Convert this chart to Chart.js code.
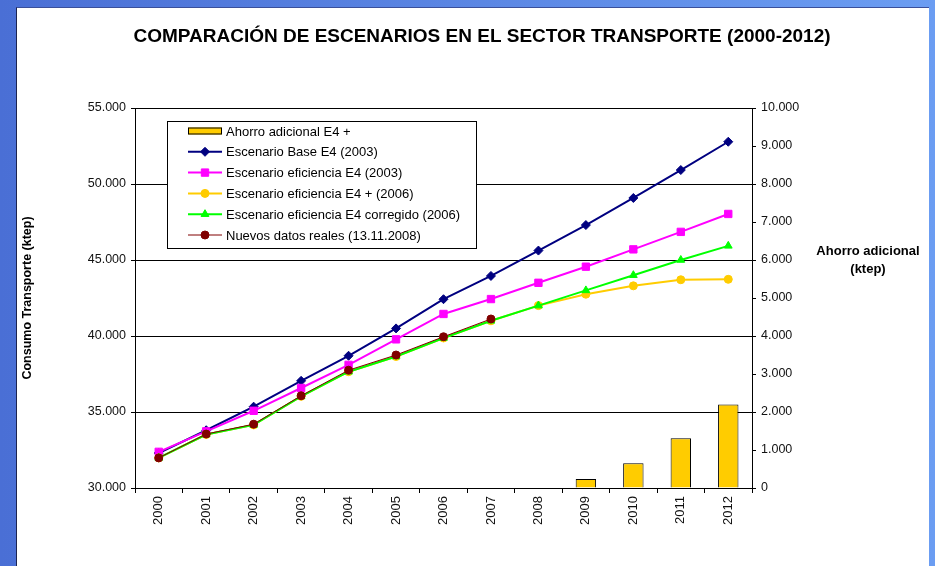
<!DOCTYPE html>
<html>
<head>
<meta charset="utf-8">
<script src="https://cdn.jsdelivr.net/npm/chart.js@4"></script>
<style>
  body { margin: 0; width: 935px; height: 566px; overflow: hidden;
         background: linear-gradient(to right, #4a6fd5, #6b9df2); }
  #panel { position: absolute; left: 16px; top: 7px; width: 913px; height: 559px;
           background: #fff; border-left: 1px solid #1c2450; border-top: 1px solid #3a4f9a; box-sizing: border-box; }
  #chart { position: absolute; left: 0; top: 0; }
</style>
</head>
<body>
<div id="panel"></div>
<canvas id="chart" width="935" height="566"></canvas>
<script>
// data (ktep)
let years = ['2000', '2001', '2002', '2003', '2004', '2005', '2006', '2007', '2008', '2009', '2010', '2011', '2012']
let ahorro = [null, null, null, null, null, null, null, null, null, 240, 650, 1310, 2200]
let baseE4 = [32300, 33800, 35350, 37050, 38700, 40500, 42420, 43950, 45620, 47300, 49080, 50920, 52780]
let eficienciaE4 = [32380, 33730, 35080, 36580, 38100, 39780, 41450, 42430, 43500, 44560, 45700, 46850, 48030]
let eficienciaPlus = [31980, 33520, 34150, 36030, 37650, 38650, 39870, 41000, 42000, 42750, 43300, 43700, 43730]
let corregido = [31980, 33520, 34150, 36030, 37650, 38650, 39870, 41000, 42000, 43000, 44000, 45000, 45930]
let reales = [31980, 33550, 34200, 36070, 37750, 38750, 39950, 41120, null, null, null, null, null]

const FONT = 'Liberation Sans, Arial, sans-serif'
Chart.defaults.font.family = FONT
Chart.defaults.color = '#000'

function miles(v) {
  return String(v).replace(/\B(?=(\d{3})+(?!\d))/g, '.')
}

function lineSet(label, data, color, style, radius, width, order) {
  return {
    type: 'line', label: label, data: data, yAxisID: 'y', order: order,
    borderColor: color, backgroundColor: color, borderWidth: width,
    pointStyle: style, pointRadius: radius, pointBorderWidth: 1,
    pointBackgroundColor: color, pointBorderColor: color, tension: 0
  }
}

// legend drawn inside the plot, like the original
const boxLegend = {
  id: 'boxLegend',
  afterDraw(chart) {
    const ctx = chart.ctx, a = chart.chartArea
    const x = a.left + 32, y = a.top + 13, w = 309, h = 127, row = 20.8
    ctx.save()
    ctx.fillStyle = '#fff'
    ctx.fillRect(x, y, w, h)
    ctx.strokeStyle = '#000'
    ctx.lineWidth = 1
    ctx.strokeRect(x + 0.5, y + 0.5, w, h)
    ctx.font = '13px ' + FONT
    ctx.textBaseline = 'middle'
    chart.data.datasets.forEach(function(ds, i) {
      const cy = y + 10 + i * row, sx = x + 21, ex = x + 55
      if (ds.type === 'bar') {
        ctx.fillStyle = ds.backgroundColor
        ctx.fillRect(sx, cy - 3.5, ex - sx, 7)
        ctx.strokeStyle = '#000'
        ctx.strokeRect(sx + 0.5, cy - 3, ex - sx - 1, 6)
      } else {
        ctx.strokeStyle = ds.borderColor
        ctx.lineWidth = ds.borderWidth
        ctx.beginPath()
        ctx.moveTo(sx, cy)
        ctx.lineTo(ex, cy)
        ctx.stroke()
        ctx.fillStyle = ds.pointBackgroundColor
        ctx.lineWidth = 1
        Chart.helpers.drawPoint(ctx, { pointStyle: ds.pointStyle, radius: ds.pointRadius, borderWidth: 1, rotation: 0 }, (sx + ex) / 2, cy)
      }
      ctx.fillStyle = '#000'
      ctx.fillText(ds.label, x + 59, cy + 1)
    })
    // right axis title, horizontal as in the original
    ctx.font = 'bold 13px ' + FONT
    ctx.textAlign = 'center'
    ctx.fillText('Ahorro adicional', 868, 251)
    ctx.fillText('(ktep)', 868, 269)
    ctx.restore()
  }
}

new Chart(document.getElementById('chart'), {
  data: {
    labels: years,
    datasets: [
      {
        type: 'bar', label: 'Ahorro adicional E4 +', data: ahorro, yAxisID: 'y1', order: 6,
        backgroundColor: '#FFCC00', borderColor: '#000', borderWidth: 1,
        barPercentage: 0.43, categoryPercentage: 1
      },
      lineSet('Escenario Base E4 (2003)', baseE4, '#000080', 'rectRot', 4.5, 2, 5),
      lineSet('Escenario eficiencia E4 (2003)', eficienciaE4, '#FF00FF', 'rect', 5.2, 2, 4),
      lineSet('Escenario eficiencia E4 + (2006)', eficienciaPlus, '#FFCC00', 'circle', 4, 2, 3),
      lineSet('Escenario eficiencia E4 corregido (2006)', corregido, '#00FF00', 'triangle', 4.5, 2, 2),
      lineSet('Nuevos datos reales (13.11.2008)', reales, '#800000', 'circle', 4, 1, 1)
    ]
  },
  options: {
    responsive: false,
    animation: false,
    layout: { padding: { left: 29, right: 0, top: 0, bottom: 0 } },
    plugins: {
      legend: { display: false },
      tooltip: { enabled: false },
      title: {
        display: true,
        text: 'COMPARACIÓN DE ESCENARIOS EN EL SECTOR TRANSPORTE (2000-2012)',
        font: { size: 19, weight: 'bold' },
        color: '#000',
        padding: { top: 25.6, bottom: 59.6 }
      }
    },
    scales: {
      x: {
        type: 'category',
        offset: true,
        grid: { offset: true, drawOnChartArea: false, color: '#000', tickLength: 5 },
        border: { color: '#000' },
        ticks: { minRotation: 90, maxRotation: 90, autoSkip: false, padding: 3, font: { size: 13 }, color: '#111' },
        afterFit: function(s) { s.height = 78 }
      },
      y: {
        position: 'left',
        min: 30000, max: 55000,
        ticks: { stepSize: 5000, padding: 5, font: { size: 12.5 }, color: '#111', callback: miles },
        grid: { color: '#000', tickLength: 4 },
        border: { color: '#000' },
        title: { display: true, text: 'Consumo Transporte (ktep)', font: { size: 12.5, weight: 'bold' }, padding: { top: -8.5, bottom: 0 } },
        afterFit: function(s) { s.width = 106 }
      },
      y1: {
        position: 'right',
        min: 0, max: 10000,
        ticks: { stepSize: 1000, padding: 5, font: { size: 12.5 }, color: '#111', callback: miles },
        grid: { drawOnChartArea: false, color: '#000', tickLength: 4 },
        border: { color: '#000' },
        afterFit: function(s) { s.width = 183 }
      }
    }
  },
  plugins: [boxLegend]
})
</script>
</body>
</html>
